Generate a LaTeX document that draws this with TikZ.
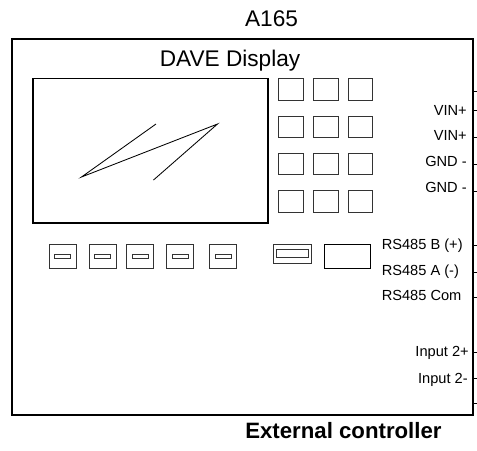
\documentclass[tikz,border=0pt]{standalone}
\usepackage{fontspec}
\setmainfont{Liberation Sans}
\tikzset{
  heavyline/.style={line width=1.2pt,black},
  thinline/.style={line width=0.6pt,black!80},
  biglabel/.style={inner sep=0pt,anchor=base,font=\fontsize{16.1}{18}\selectfont},
  pinlabel/.style={inner sep=0pt,anchor=base east,font=\fontsize{10.4}{12}\selectfont},
  rslabel/.style={inner sep=0pt,anchor=base west,font=\fontsize{10.4}{12}\selectfont}
}
\begin{document}
\begin{tikzpicture}[x=0.025cm,y=-0.025cm]
  \useasboundingbox (0,0) rectangle (477,450);
  \node[biglabel] (title) at (271.5,26) {A165};
  \node[biglabel] (device) at (230,66) {DAVE Display};
  \node[biglabel,anchor=base west,font=\fontsize{15.8}{18}\selectfont\bfseries] (controller) at (245,438) {External controller};

  % housing and screen
  \draw [heavyline] (12,39) rectangle (473,415);
  \draw [heavyline] (33,78.5) rectangle (268,223);
  \draw [thinline,black] (156,124) -- (81.5,177) -- (217.5,124) -- (153.5,180);

  % keypad
  \foreach \y in {78.5,116,153,190.5} {
    \foreach \x in {278.5,313.5,348} {
      \draw [thinline] (\x,\y) rectangle ++(24.5,21.5);
    }
  }

  % switches
  \foreach \x in {49,89,126.5,166.5,209.5} {
    \draw [thinline] (\x,244) rectangle ++(27,24);
    \draw [thinline] (\x+5.5,254.5) rectangle ++(16,3.5);
  }

  % usb and connector
  \draw [thinline] (273.5,244) rectangle (311,263);
  \draw [thinline] (276,249.5) rectangle (308.7,257.5);
  \draw [thinline,black] (324,244) rectangle (370,268);

  % terminals
  \foreach \y in {91,110,137,164,191,245,272,297,352,378,403} {
    \draw [thinline,black] (473,\y) -- (477,\y);
  }

  \node[pinlabel] (vinA) at (467,115.7) {VIN+};
  \node[pinlabel] (vinB) at (467,140) {VIN+};
  \node[pinlabel] (gndA) at (467,166.7) {GND -};
  \node[pinlabel] (gndB) at (467,192.7) {GND -};
  \node[rslabel] (rsB) at (381.5,249) {RS485 B (+)};
  \node[rslabel] (rsA) at (381.5,275.7) {RS485 A (-)};
  \node[rslabel] (rsCom) at (381.5,300.3) {RS485 Com};
  \node[pinlabel] (inA) at (469,356.3) {Input 2+};
  \node[pinlabel] (inB) at (468,383) {Input 2-};
\end{tikzpicture}
\end{document}
